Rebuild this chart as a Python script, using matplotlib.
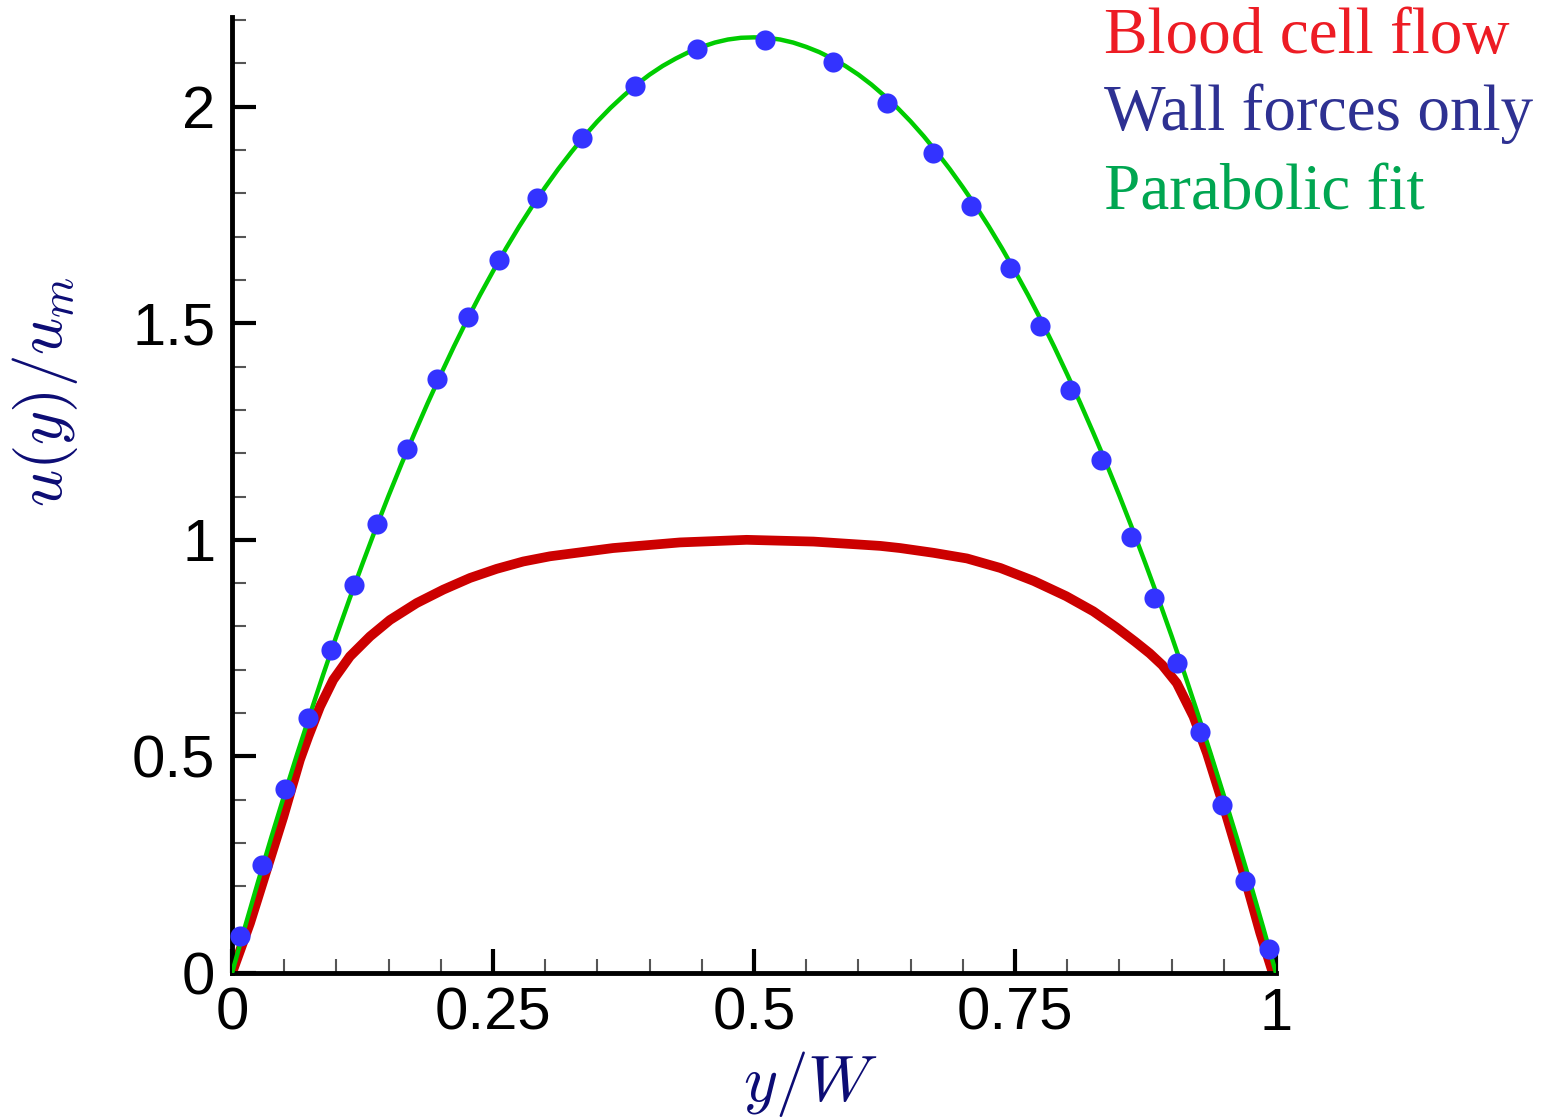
import numpy as np
import matplotlib
matplotlib.use('Agg')
import matplotlib.pyplot as plt
from matplotlib.ticker import MultipleLocator

plt.rcParams['mathtext.fontset'] = 'cm'

# blood cell flow profile (red)
red_x = [0, 0.0172, 0.0332, 0.0492, 0.065, 0.0731, 0.0843, 0.097, 0.113, 0.1322,
         0.1513, 0.1769, 0.2024, 0.228, 0.2535, 0.279, 0.3046, 0.365, 0.429, 0.493,
         0.557, 0.621, 0.640, 0.672, 0.704, 0.736, 0.768, 0.799, 0.825, 0.847,
         0.865, 0.879, 0.891, 0.905, 0.921, 0.934, 0.950, 0.969, 0.985, 0.997]
red_u = [0, 0.115, 0.238, 0.361, 0.492, 0.546, 0.615, 0.677, 0.731, 0.777,
         0.815, 0.854, 0.885, 0.912, 0.933, 0.950, 0.962, 0.981, 0.994, 1.000,
         0.996, 0.986, 0.981, 0.970, 0.957, 0.935, 0.905, 0.870, 0.835, 0.798,
         0.765, 0.738, 0.711, 0.669, 0.592, 0.507, 0.384, 0.230, 0.092, 0.0]

# parabolic fit (green), read every 0.0125 up to the middle, symmetric
fit_x = [i * 0.0125 for i in range(81)]
fit_half = [0, 0.107, 0.211, 0.312, 0.410, 0.506, 0.599, 0.690, 0.778, 0.863,
            0.945, 1.025, 1.102, 1.176, 1.247, 1.316, 1.382, 1.446, 1.507, 1.565,
            1.620, 1.673, 1.723, 1.770, 1.814, 1.856, 1.895, 1.932, 1.966, 1.997,
            2.025, 2.051, 2.074, 2.094, 2.111, 2.126, 2.138, 2.148, 2.155, 2.159,
            2.160]
fit_u = fit_half + fit_half[-2::-1]

# wall forces only (blue dots)
wall_x = [0.0077, 0.0287, 0.0508, 0.0728, 0.0948, 0.1169, 0.1389, 0.1676, 0.1964, 0.2261,
          0.2557, 0.2921, 0.3352, 0.386, 0.4454, 0.5105, 0.5757, 0.6274, 0.6715, 0.7079,
          0.7452, 0.7739, 0.8027, 0.8324, 0.8611, 0.8831, 0.9052, 0.9272, 0.9483, 0.9703,
          0.9933]
wall_u = [0.0855, 0.249, 0.425, 0.589, 0.746, 0.896, 1.037, 1.210, 1.372, 1.515,
          1.647, 1.788, 1.928, 2.048, 2.132, 2.155, 2.104, 2.009, 1.894, 1.771,
          1.628, 1.494, 1.346, 1.185, 1.007, 0.866, 0.716, 0.557, 0.388, 0.212,
          0.055]

xticks = [0, 0.25, 0.5, 0.75, 1]
xticklabels = ['0', '0.25', '0.5', '0.75', '1']
yticks = [0, 0.5, 1, 1.5, 2]
yticklabels = ['0', '0.5', '1', '1.5', '2']

legend_txt = ['Blood cell flow', 'Wall forces only', 'Parabolic fit']
legend_col = ['#ED1C24', '#2E3192', '#00A651']

fig = plt.figure(figsize=(15.49, 11.17), dpi=100)
ax = fig.add_axes([232/1549., 1-973/1117., (1276-232)/1549., (973-17)/1117.])

ax.plot(red_x, red_u, color='#CC0000', lw=7, solid_joinstyle='round',
        solid_capstyle='butt', zorder=2)
ax.plot(fit_x, fit_u, color='#00CC00', lw=3.2, zorder=3)
ax.plot(wall_x, wall_u, 'o', color='#3333FF', ms=14.5, mec='none', zorder=4, clip_on=False)

ax.set_xlim(0, 1)
ax.set_ylim(0, 2.207)
for s in ['top', 'right']:
    ax.spines[s].set_visible(False)
for s in ['left', 'bottom']:
    ax.spines[s].set_linewidth(3.5)

ax.set_xticks(xticks)
ax.set_xticklabels(xticklabels)
ax.set_yticks(yticks)
ax.set_yticklabels(yticklabels)
ax.xaxis.set_minor_locator(MultipleLocator(0.05))
ax.yaxis.set_minor_locator(MultipleLocator(0.1))
ax.tick_params(which='major', direction='in', length=17, width=3, labelsize=43,
               labelfontfamily='Liberation Sans')
ax.tick_params(which='minor', direction='in', length=10, width=1.5, color='#555555')
ax.tick_params(axis='x', which='major', pad=10)
ax.tick_params(axis='y', which='major', pad=12)

lab_col = '#0C0C74'
ax.set_xlabel(r'$y/W$', fontsize=47, color=lab_col)
ax.xaxis.set_label_coords(0.554, -0.08)
ax.set_ylabel(r'$u(y)/u_m$', fontsize=47, color=lab_col)
ax.yaxis.set_label_coords(-0.146, 0.608)

for i, (t, c) in enumerate(zip(legend_txt, legend_col)):
    fig.text(1104/1549., 1 - [53, 130, 210][i]/1117., t, color=c, fontsize=47,
             family='Liberation Serif', va='baseline', ha='left')

fig.savefig('out.png', dpi=100)
